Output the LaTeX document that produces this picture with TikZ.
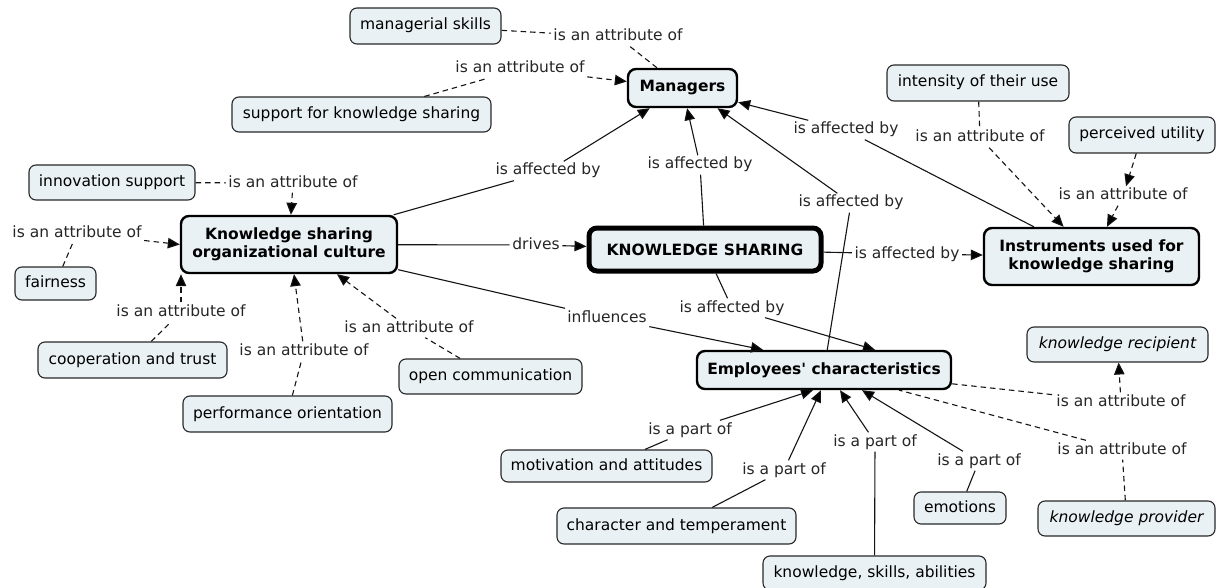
\documentclass[tikz,border=0pt]{standalone}
\usepackage{fontspec}
\setmainfont{DejaVu Sans}
\usetikzlibrary{arrows.meta,calc}
\definecolor{cfill}{RGB}{233,241,244}
\definecolor{cline}{RGB}{40,40,40}
\definecolor{lline}{RGB}{20,20,20}
\begin{document}
\begin{tikzpicture}[x=1pt,y=-1pt,
 every node/.style={font=\fontsize{15.5}{18.5}\selectfont},
 concept/.style={draw=cline,fill=cfill,rounded corners=7pt,line width=1.1pt,inner sep=0pt,text height=11.5pt,text depth=3.5pt},
 keyc/.style={draw=black,fill=cfill,rounded corners=8pt,line width=2.4pt,inner sep=0pt,font=\fontsize{15.5}{18.5}\selectfont\bfseries},
 ital/.style={font=\fontsize{15.5}{18.5}\selectfont\itshape},
 lbl/.style={inner sep=2.5pt,text height=11pt,text depth=3pt,text=black!85},
 link/.style={draw=lline,line width=1.1pt},
 dlink/.style={link,dash pattern=on 5.5pt off 4pt},
 tip/.style={-{Triangle[length=12pt,width=10.5pt,fill=black]}},
]
\useasboundingbox (0,0) rectangle (1217,588);
\fill[white] (0,0) rectangle (1217,588);

% concepts
\node[concept,minimum width=151pt,minimum height=36pt] (ms) at (425.5,26) {managerial skills};
\node[concept,minimum width=259pt,minimum height=35pt] (sup) at (361.5,114.5) {support for knowledge sharing};
\node[concept,minimum width=166pt,minimum height=35pt] (inn) at (112,182.5) {innovation support};
\node[keyc,minimum width=216pt,minimum height=57pt,align=center] (cul) at (289,244.5) {Knowledge sharing\\organizational culture};
\node[concept,minimum width=81pt,minimum height=33pt] (fai) at (55.5,283.5) {fairness};
\node[keyc,minimum width=109pt,minimum height=38pt] (mgr) at (682.5,88) {Managers};
\node[concept,minimum width=182pt,minimum height=36pt] (int) at (978,83) {intensity of their use};
\node[concept,minimum width=146pt,minimum height=36pt] (per) at (1142,135) {perceived utility};
\node[keyc,line width=5pt,minimum width=232pt,minimum height=43pt] (ks) at (705,249.5) {KNOWLEDGE SHARING};
\node[keyc,minimum width=215pt,minimum height=57pt,align=center] (ins) at (1091.5,256.5) {Instruments used for\\knowledge sharing};
\node[concept,minimum width=189pt,minimum height=36pt] (coo) at (132.5,360) {cooperation and trust};
\node[concept,minimum width=209pt,minimum height=36pt] (prf) at (287.5,414) {performance orientation};
\node[concept,minimum width=183pt,minimum height=35pt] (opn) at (490.5,376.5) {open communication};
\node[keyc,minimum width=254pt,minimum height=38pt] (emp) at (824,370) {Employees\textquotesingle{} characteristics};
\node[concept,ital,minimum width=181pt,minimum height=35pt] (rec) at (1117.5,344.5) {knowledge recipient};
\node[concept,minimum width=211pt,minimum height=32pt] (mot) at (606.5,466) {motivation and attitudes};
\node[concept,minimum width=239pt,minimum height=36pt] (chr) at (676.5,526) {character and temperament};
\node[concept,minimum width=223pt,minimum height=34pt] (ksa) at (874.5,573) {knowledge, skills, abilities};
\node[concept,minimum width=92pt,minimum height=32pt] (emo) at (960,508) {emotions};
\node[concept,ital,minimum width=177pt,minimum height=35pt] (prv) at (1126.5,518.5) {knowledge provider};

% link labels
\node[lbl] (l1) at (618,37) {is an attribute of};
\node[lbl] (l2) at (520,69) {is an attribute of};
\node[lbl] (l3) at (293,183) {is an attribute of};
\node[lbl] (l4) at (77,233) {is an attribute of};
\node[lbl] (l5) at (181,312) {is an attribute of};
\node[lbl] (l6) at (304,351) {is an attribute of};
\node[lbl] (l7) at (409,328) {is an attribute of};
\node[lbl] (l8) at (548,171) {is affected by};
\node[lbl] (l9) at (700,165) {is affected by};
\node[lbl] (l10) at (851,203) {is affected by};
\node[lbl] (l11) at (846,130) {is affected by};
\node[lbl] (l12) at (980,138) {is an attribute of};
\node[lbl] (l13) at (1123,196) {is an attribute of};
\node[lbl] (l14) at (536,245) {drives};
\node[lbl] (l15) at (907,254) {is affected by};
\node[lbl] (l16) at (732,308) {is affected by};
\node[lbl] (l17) at (607,318) {influences};
\node[lbl] (l18) at (690,430) {is a part of};
\node[lbl] (l19) at (784,470) {is a part of};
\node[lbl] (l20) at (875,442) {is a part of};
\node[lbl] (l21) at (979,461) {is a part of};
\node[lbl] (l22) at (1121,402) {is an attribute of};
\node[lbl] (l23) at (1122,450) {is an attribute of};

% connectors
\draw[dlink] (ms) -- (l1); \draw[dlink] (l1) -- (mgr);
\draw[dlink] (sup) -- (l2); \draw[dlink,tip] (l2) -- (mgr);
\draw[dlink] (inn) -- (l3); \draw[dlink,tip] (l3) -- (cul);
\draw[dlink] (fai) -- (l4); \draw[dlink,tip] (l4) -- (cul.west);
\draw[dlink] (coo) -- (l5); \draw[dlink,tip] (l5) -- (l5 |- cul.south);
\draw[dlink] (prf) -- (l6); \draw[dlink,tip] (l6) -- ($(cul.south)+(5,0)$);
\draw[dlink] (opn) -- (l7); \draw[dlink,tip] (l7) -- ($(cul.south)+(48,0)$);
\draw[link] (cul) -- (l8); \draw[link,tip] (l8) -- (mgr);
\draw[link] (ks) -- (l9); \draw[link,tip] (l9) -- (mgr);
\draw[link] (emp) -- (l10); \draw[link,tip] (l10) -- ($(mgr.south)+(35,0)$);
\draw[link] (ins) -- (l11); \draw[link,tip] (l11) -- (mgr);
\draw[dlink] (int) -- (l12); \draw[dlink,tip] (l12) -- (ins);
\draw[dlink,tip] (per) -- (l13); \draw[dlink,tip] (l13) -- (ins);
\draw[link] (cul) -- (l14); \draw[link,tip] (l14) -- (ks);
\draw[link] (ks) -- (l15); \draw[link,tip] (l15) -- (ins);
\draw[link] (ks) -- (l16); \draw[link,tip] (l16) -- ($(emp.north)+(51,0)$);
\draw[link] (cul) -- (l17); \draw[link,tip] (l17) -- ($(emp.north)+(-61,0)$);
\draw[link] (mot) -- (l18); \draw[link,tip] (l18) -- ($(emp.south)+(-11,0)$);
\draw[link] (chr) -- (l19); \draw[link,tip] (l19) -- ($(emp.south)+(-3,0)$);
\draw[link] (ksa) -- (l20); \draw[link,tip] (l20) -- ($(emp.south)+(16,0)$);
\draw[link] (emo) -- (l21); \draw[link,tip] (l21) -- ($(emp.south)+(38,0)$);
\draw[dlink] (emp) -- (l22); \draw[dlink,tip] (l22) -- (rec);
\draw[dlink] (prv) -- (l23); \draw[dlink] (l23) -- (emp);
\end{tikzpicture}
\end{document}
